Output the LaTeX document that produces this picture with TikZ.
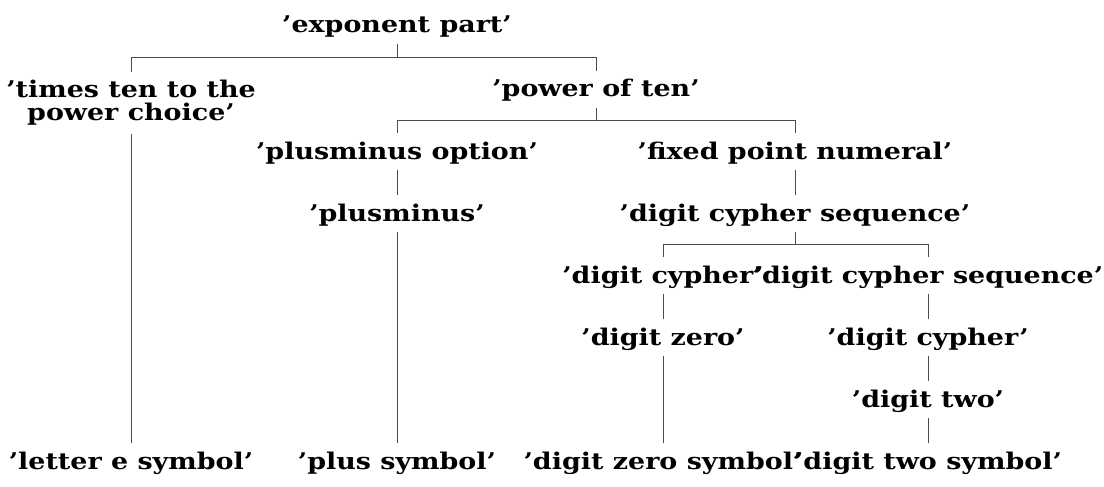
\documentclass[tikz,border=0pt]{standalone}
\usepackage{fontspec}
\setmainfont[FakeStretch=1.17]{DejaVu Serif}
\begin{document}
\begin{tikzpicture}[x=1pt,y=-1pt,
  lbl/.style={font=\fontsize{23}{23}\selectfont\bfseries, text height=22pt, text depth=7pt, inner xsep=0pt, inner ysep=4pt, anchor=base},
  lbltwo/.style={font=\fontsize{23}{23}\selectfont\bfseries, align=center, inner xsep=0pt, inner ysep=8pt, anchor=north},
  link/.style={draw=black!70, line width=1pt}]
\useasboundingbox (0,0) rectangle (1104,487);
\node[lbl] (ep) at (397,33) {'exponent part'};
\node[lbltwo] (tt) at (131,72) {'times ten to the\\power choice'};
\node[lbl] (pt) at (596,97) {'power of ten'};
\node[lbl] (po) at (397,159) {'plusminus option'};
\node[lbl] (fp) at (795,159) {'fixed point numeral'};
\node[lbl] (pm) at (397,221) {'plusminus'};
\node[lbl] (dcsa) at (795,221) {'digit cypher sequence'};
\node[lbl] (dca) at (663,283) {'digit cypher'};
\node[lbl] (dcsb) at (928,283) {'digit cypher sequence'};
\node[lbl] (dz) at (663,345) {'digit zero'};
\node[lbl] (dcb) at (928,345) {'digit cypher'};
\node[lbl] (dt) at (928,407) {'digit two'};
\node[lbl] (les) at (131,469) {'letter e symbol'};
\node[lbl] (ps) at (397,469) {'plus symbol'};
\node[lbl] (dzs) at (663,469) {'digit zero symbol'};
\node[lbl] (dts) at (928,469) {'digit two symbol'};
% forks
\path (ep.south) -- (pt.north) coordinate[pos=0.5] (ma);
\draw[link] (ep.south) -- (ep.south |- ma);
\draw[link] (tt.north) |- (pt.north |- ma) -- (pt.north);
\path (pt.south) -- (po.north) coordinate[pos=0.5] (mb);
\draw[link] (pt.south) -- (pt.south |- mb);
\draw[link] (po.north) |- (fp.north |- mb) -- (fp.north);
\path (dcsa.south) -- (dca.north) coordinate[pos=0.5] (mc);
\draw[link] (dcsa.south) -- (dcsa.south |- mc);
\draw[link] (dca.north) |- (dcsb.north |- mc) -- (dcsb.north);
% straight links
\draw[link] (tt.south) -- (les.north);
\draw[link] (po.south) -- (pm.north);
\draw[link] (pm.south) -- (ps.north);
\draw[link] (fp.south) -- (dcsa.north);
\draw[link] (dca.south) -- (dz.north);
\draw[link] (dz.south) -- (dzs.north);
\draw[link] (dcsb.south) -- (dcb.north);
\draw[link] (dcb.south) -- (dt.north);
\draw[link] (dt.south) -- (dts.north);
\end{tikzpicture}
\end{document}
